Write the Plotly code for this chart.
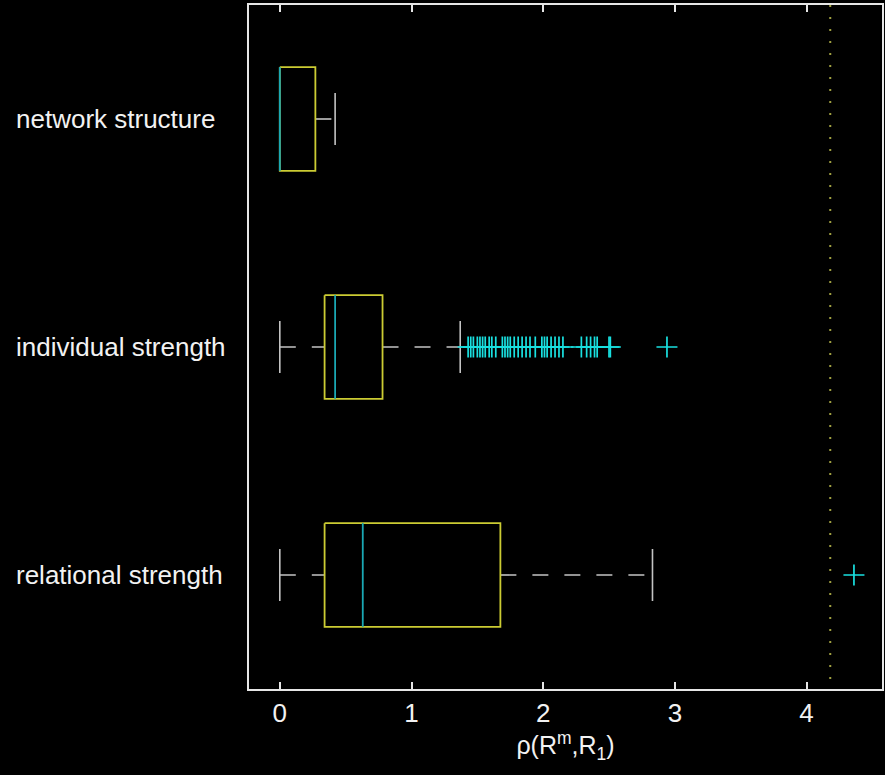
import plotly.graph_objects as go

# ---- data ----
categories = ["network structure", "individual strength", "relational strength"]
q1 = [0.0, 0.34, 0.34]
median = [0.0, 0.42, 0.63]
q3 = [0.27, 0.78, 1.675]
whisker_lo = [0.0, 0.0, 0.0]
whisker_hi = [0.42, 1.37, 2.83]
outliers = [
    [],
    [1.43, 1.45, 1.47, 1.50, 1.52, 1.54, 1.56, 1.59, 1.61, 1.64, 1.69, 1.71,
     1.73, 1.75, 1.78, 1.81, 1.84, 1.87, 1.90, 1.94, 1.99, 2.01, 2.03, 2.06,
     2.09, 2.12, 2.15, 2.29, 2.33, 2.36, 2.39, 2.41, 2.50, 2.51, 2.94],
    [4.36],
]
reference_value = 4.18
x_ticks = [0, 1, 2, 3, 4]

# ---- styles ----
BOX_COLOR = "#cccc33"
MED_COLOR = "#1aa8b4"
WHISK_COLOR = "#c4c4c4"
OUT_COLOR = "#19e0e0"
REF_COLOR = "#a0a040"
AX_COLOR = "#e6e6e6"
TXT_COLOR = "#f2f2f2"
FONT = "Liberation Sans, Arial, Helvetica, sans-serif"
BOX_HALF = 0.2275
CAP_HALF = 0.114

fig = go.Figure()

# reference dotted line
fig.add_trace(go.Scatter(x=[reference_value, reference_value], y=[0.5, 3.5], mode="lines",
                         line=dict(color=REF_COLOR, width=2, dash="2px,10px"),
                         hoverinfo="skip", showlegend=False))

for i, cat in enumerate(categories):
    yc = i + 1
    # whiskers (dashed), drawn left to right
    if whisker_lo[i] < q1[i]:
        fig.add_trace(go.Scatter(x=[whisker_lo[i], q1[i]], y=[yc, yc], mode="lines",
                                 line=dict(color=WHISK_COLOR, width=1.6, dash="16px,16px"),
                                 showlegend=False, hoverinfo="skip"))
        fig.add_trace(go.Scatter(x=[whisker_lo[i], whisker_lo[i]], y=[yc - CAP_HALF, yc + CAP_HALF],
                                 mode="lines", line=dict(color=WHISK_COLOR, width=1.6),
                                 showlegend=False, hoverinfo="skip"))
    if whisker_hi[i] > q3[i]:
        fig.add_trace(go.Scatter(x=[q3[i], whisker_hi[i]], y=[yc, yc], mode="lines",
                                 line=dict(color=WHISK_COLOR, width=1.6, dash="16px,16px"),
                                 showlegend=False, hoverinfo="skip"))
        fig.add_trace(go.Scatter(x=[whisker_hi[i], whisker_hi[i]], y=[yc - CAP_HALF, yc + CAP_HALF],
                                 mode="lines", line=dict(color=WHISK_COLOR, width=1.6),
                                 showlegend=False, hoverinfo="skip"))
    # box
    fig.add_trace(go.Scatter(x=[q1[i], q3[i], q3[i], q1[i], q1[i]],
                             y=[yc - BOX_HALF, yc - BOX_HALF, yc + BOX_HALF, yc + BOX_HALF, yc - BOX_HALF],
                             mode="lines", line=dict(color=BOX_COLOR, width=1.8),
                             showlegend=False, hoverinfo="skip"))
    # median
    fig.add_trace(go.Scatter(x=[median[i], median[i]], y=[yc - BOX_HALF, yc + BOX_HALF],
                             mode="lines", line=dict(color=MED_COLOR, width=1.8),
                             showlegend=False, hoverinfo="skip"))
    # outliers
    if outliers[i]:
        fig.add_trace(go.Scatter(x=outliers[i], y=[yc] * len(outliers[i]), mode="markers",
                                 marker=dict(symbol="cross-thin", size=15,
                                             line=dict(color=OUT_COLOR, width=1.7)),
                                 showlegend=False, hoverinfo="skip"))
    # category label (left aligned)
    fig.add_annotation(x=-0.371, xref="paper", y=yc, yref="y", text=cat, showarrow=False,
                       xanchor="left", yanchor="middle",
                       font=dict(family=FONT, size=26, color=TXT_COLOR))

fig.update_layout(
    width=885, height=775,
    paper_bgcolor="black", plot_bgcolor="black",
    margin=dict(l=249, r=1, t=5, b=86),
    font=dict(family=FONT, color=TXT_COLOR),
    xaxis=dict(range=[-0.234, 4.573], tickvals=x_ticks, ticktext=[str(t) for t in x_ticks],
               ticks="inside", ticklen=7, tickwidth=1.5, tickcolor=AX_COLOR,
               showline=True, linecolor=AX_COLOR, linewidth=1.5, mirror="ticks",
               showgrid=False, zeroline=False,
               tickfont=dict(family=FONT, size=26, color=TXT_COLOR),
               title=dict(text="ρ(R<sup>m</sup>,R<sub>1</sub>)", standoff=6,
                          font=dict(family=FONT, size=25, color=TXT_COLOR))),
    yaxis=dict(range=[3.5, 0.5], tickvals=[1, 2, 3], showticklabels=False, ticks="",
               showline=True, linecolor=AX_COLOR, linewidth=1.5, mirror=True,
               showgrid=False, zeroline=False),
)

fig.write_html(
    "out.html",
    config={"displayModeBar": False},
    post_script="document.body.style.margin='0';document.body.style.background='black';",
)
